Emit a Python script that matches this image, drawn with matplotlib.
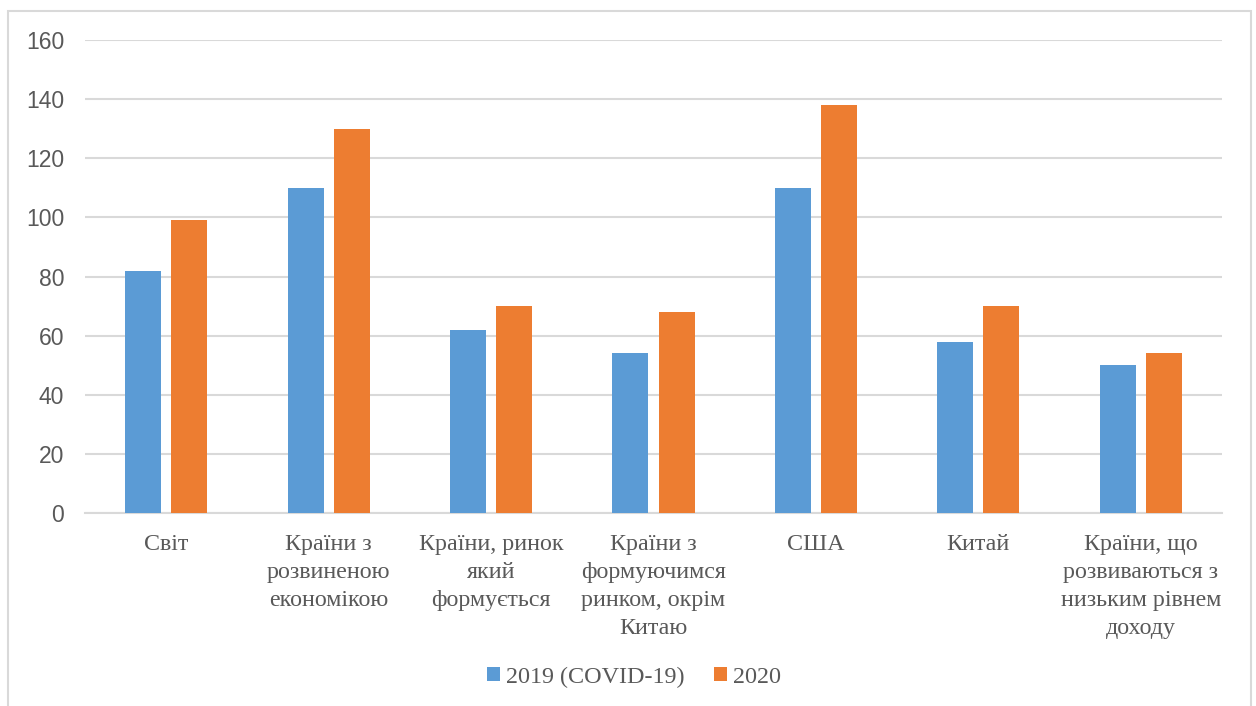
import matplotlib.pyplot as plt
import numpy as np
from matplotlib.patches import Rectangle

plt.rcParams['font.family'] = ['Liberation Serif', 'DejaVu Serif']

# дані
kategorii = ["Світ", "Країни з\nрозвиненою\nекономікою", "Країни, ринок\nякий\nформується",
             "Країни з\nформуючимся\nринком, окрім\nКитаю", "США", "Китай",
             "Країни, що\nрозвиваються з\nнизьким рівнем\nдоходу"]
znach_2019 = [82, 110, 62, 54, 110, 58, 50]
znach_2020 = [99, 130, 70, 68, 138, 70, 54]
seria = ["2019 (COVID-19)", "2020"]

fig = plt.figure(figsize=(12.56, 7.06), dpi=100)
ax = fig.add_axes([85 / 1256, 1 - 513 / 706, (1222 - 85) / 1256, (513 - 40) / 706])

# рамка навколо діаграми
fig.patches.append(Rectangle((8 / 1256, -0.01), (1251 - 8) / 1256, 1 - 11 / 706 + 0.01,
                             transform=fig.transFigure, fill=False,
                             edgecolor="#d9d9d9", linewidth=1.5))

x = np.arange(len(kategorii))
w = 0.222
ax.bar(x - 0.142, znach_2019, w, color="#5b9bd5", label=seria[0], zorder=3)
ax.bar(x + 0.142, znach_2020, w, color="#ed7d31", label=seria[1], zorder=3)

ax.set_xlim(-0.5, len(kategorii) - 0.5)
ax.set_ylim(0, 160)
ax.set_yticks(range(0, 161, 20))
ax.set_xticks(x)
ax.grid(axis="y", color="#d9d9d9", linewidth=1.5, zorder=0)
for s in ["top", "right", "left"]:
    ax.spines[s].set_visible(False)
ax.spines["bottom"].set_color("#d9d9d9")
ax.spines["bottom"].set_linewidth(1.5)
ax.tick_params(length=0)
ax.tick_params(axis="y", pad=15)
ax.tick_params(axis="x", pad=15)

ax.set_yticklabels([str(v) for v in range(0, 161, 20)], family=["Liberation Sans", "DejaVu Sans"],
                   fontsize=16.5, color="#595959")
ax.set_xticklabels(kategorii, fontsize=17.3, color="#595959", linespacing=1.45, va="top")

leg = fig.legend(loc="center", bbox_to_anchor=(634 / 1256, 1 - 677 / 706), ncol=2,
                 frameon=False, prop={"size": 17.4},
                 handlelength=0.55, handleheight=0.55, handletextpad=0.25, columnspacing=1.2)
for t in leg.get_texts():
    t.set_color("#595959")

fig.savefig("out.png", dpi=100)
